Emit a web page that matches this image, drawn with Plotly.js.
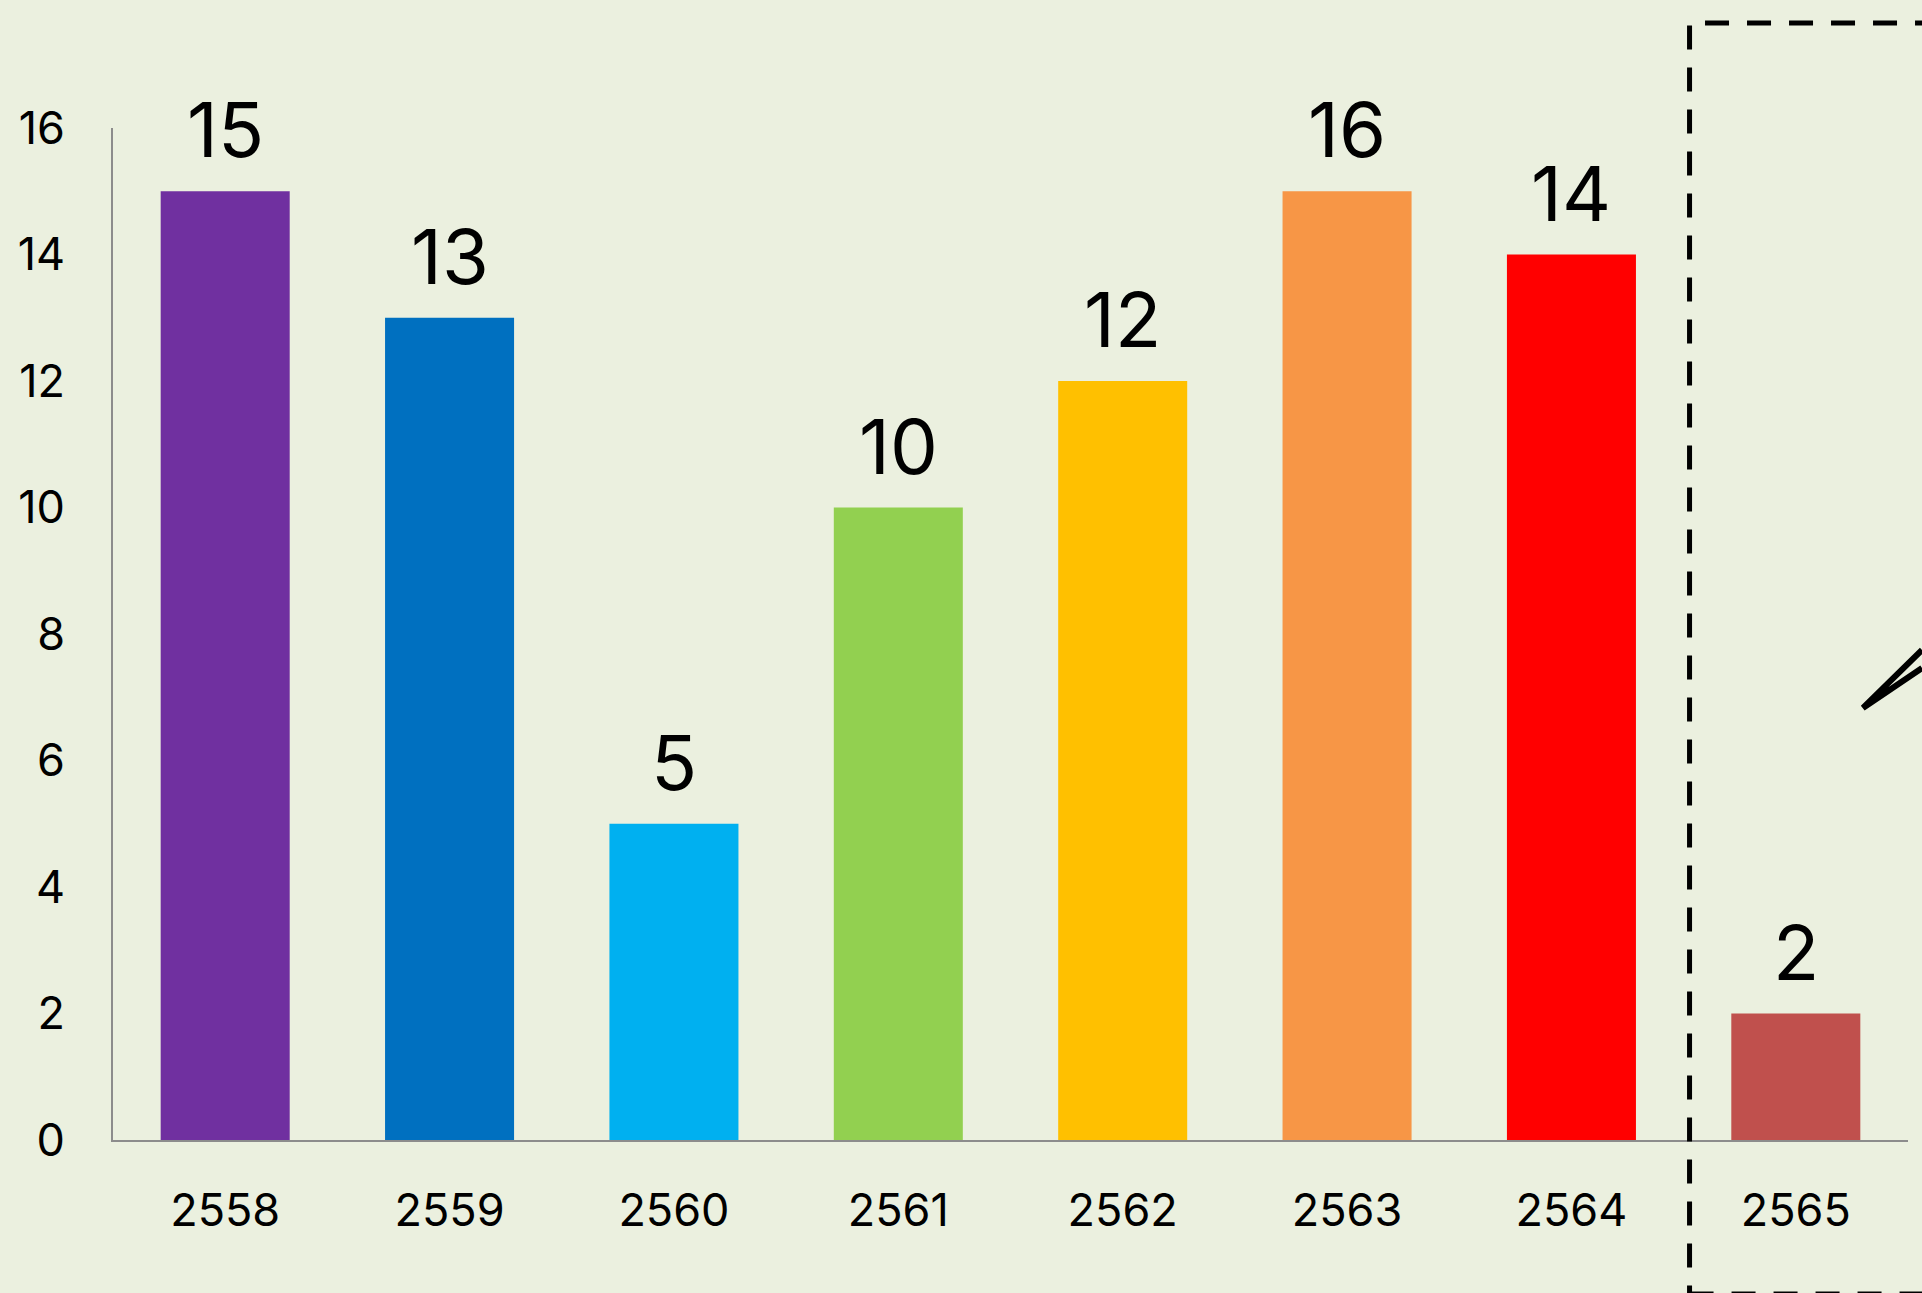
<!DOCTYPE html>
<html>
<head>
<meta charset="utf-8">
<script src="https://cdn.plot.ly/plotly-3.0.1.min.js"></script>
<style>
  html, body { margin: 0; padding: 0; background: #EBF0DF; }
  #chart { width: 1922px; height: 1293px; }
</style>
</head>
<body>
<div id="chart"></div>
<script>
// Data
const years = ["2558", "2559", "2560", "2561", "2562", "2563", "2564", "2565"];
const values = [15, 13, 5, 10, 12, 15, 14, 2];
const labels = ["15", "13", "5", "10", "12", "16", "14", "2"];
const colors = ["#7030A0", "#0070C0", "#00B0F0", "#92D050", "#FFC000", "#F79646", "#FF0000", "#C0504D"];
const yTicks = [0, 2, 4, 6, 8, 10, 12, 14, 16];

const FONT = "Inter, 'Liberation Sans', Arial, sans-serif";
const BG = "#EBF0DF";

const trace = {
  type: "bar",
  x: years,
  y: values,
  marker: { color: colors, line: { width: 0 } },
  hoverinfo: "x+y",
  showlegend: false
};

// category axis: position i corresponds to years[i]
const annotations = years.map((yr, i) => ({
  x: i,
  y: values[i],
  xref: "x",
  yref: "y",
  text: labels[i],
  showarrow: false,
  xanchor: "center",
  yanchor: "middle",
  yshift: 62,
  font: { family: FONT, size: 76, color: "#000000" }
}));

const layout = {
  width: 1922,
  height: 1293,
  paper_bgcolor: BG,
  plot_bgcolor: BG,
  margin: { l: 113, r: 14, t: 128, b: 153, pad: 0 },
  bargap: 0.425,
  font: { family: FONT, color: "#000000" },
  xaxis: {
    type: "category",
    categoryorder: "array",
    categoryarray: years,
    range: [-0.5, years.length - 0.5],
    autorange: false,
    showline: true,
    linecolor: "#8C8C8C",
    linewidth: 2,
    showgrid: false,
    zeroline: false,
    ticks: "",
    ticklabelstandoff: 30,
    tickfont: { family: FONT, size: 45, color: "#000000" }
  },
  yaxis: {
    range: [0, 16],
    autorange: false,
    tickmode: "array",
    tickvals: yTicks,
    ticktext: yTicks.map(String),
    showline: true,
    linecolor: "#8C8C8C",
    linewidth: 2,
    showgrid: false,
    zeroline: false,
    ticks: "",
    ticklabelstandoff: 37,
    tickfont: { family: FONT, size: 45, color: "#000000" }
  },
  annotations: annotations,
  shapes: [
    {
      type: "rect",
      xref: "paper", yref: "paper",
      x0: 0.8783, x1: 1.05,
      y0: -0.1522, y1: 1.1038,
      line: { color: "#000000", width: 5, dash: "24px,18px" },
      fillcolor: "rgba(0,0,0,0)",
      layer: "above"
    },
    {
      type: "path",
      xref: "paper", yref: "paper",
      path: "M 1.0078 0.4842 L 0.9749 0.4269 L 1.0078 0.4664",
      line: { color: "#000000", width: 6 },
      layer: "above"
    }
  ]
};

Plotly.newPlot("chart", [trace], layout, { displayModeBar: false, staticPlot: true });
</script>
</body>
</html>
